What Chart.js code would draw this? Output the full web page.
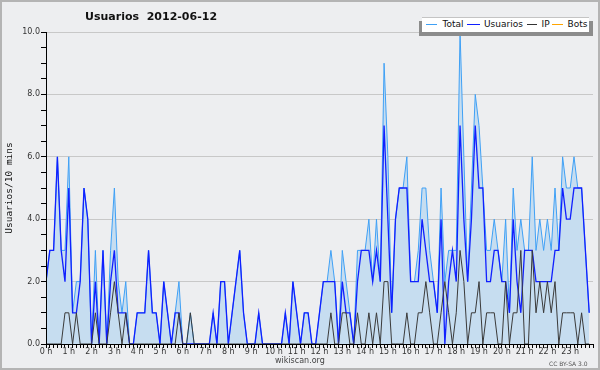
<!DOCTYPE html>
<html>
<head>
<meta charset="utf-8">
<script src="https://cdn.jsdelivr.net/npm/chart.js@4/dist/chart.umd.min.js"></script>
<style>
  html, body { margin: 0; padding: 0; background: #edeef0; }
  #wrap { position: relative; width: 600px; height: 370px; background: #edeef0; overflow: hidden; }
  #c { position: absolute; left: 0; top: 0; }
  .abs { position: absolute; white-space: pre; font-family: 'DejaVu Sans', sans-serif; }
  .frame { position: absolute; left: 0; top: 0; width: 600px; height: 370px; box-sizing: border-box; border: 2px solid #b4b4b4; pointer-events: none; }
</style>
</head>
<body>
<div id="wrap">
  <canvas id="c" width="600" height="370"></canvas>
  <div class="abs" style="left:85px;top:10px;font-weight:bold;font-size:11px;line-height:13px;color:#111;">Usuarios  2012-06-12</div>
  <div style="position:absolute;left:419px;top:21px;width:174px;height:15px;background:#8c8c8c;"></div>
  <div style="position:absolute;left:422px;top:17px;width:167px;height:15px;background:#fff;box-sizing:border-box;border-top:1px solid #c4c4c4;"></div>
  <div style="position:absolute;left:426px;top:24px;width:11px;height:1px;background:#3fa0f5;"></div>
  <div class="abs" style="left:442.5px;top:19px;font-size:9px;line-height:11px;color:#111;">Total</div>
  <div style="position:absolute;left:467px;top:24px;width:13px;height:1px;background:#1020ff;"></div>
  <div class="abs" style="left:484px;top:19px;font-size:9px;line-height:11px;color:#111;">Usuarios</div>
  <div style="position:absolute;left:527px;top:24px;width:10px;height:1px;background:#333;"></div>
  <div class="abs" style="left:541.5px;top:19px;font-size:9px;line-height:11px;color:#111;">IP</div>
  <div style="position:absolute;left:552px;top:24px;width:11px;height:1px;background:#ffa500;"></div>
  <div class="abs" style="left:567.5px;top:19px;font-size:9px;line-height:11px;color:#111;">Bots</div>
  <div class="abs" style="left:275px;top:356px;font-size:8px;line-height:10px;color:#444;">wikiscan.org</div>
  <div class="abs" style="left:549px;top:359.5px;font-size:6px;line-height:7px;color:#555;">CC BY-SA 3.0</div>
  <div class="frame"></div>
</div>
<script>
// 144 ten-minute slots, 0 h .. 23 h 50
const total = [
  2,3,3,6,3,3,6,1,2,2,5,4,
  0,3,0,3,0,3,5,2,1,2,0,0,
  1,1,1,3,1,1,0,2,1,0,1,2,
  0,0,1,0,0,0,0,0,1,0,2,2,
  0,1,2,3,1,0,0,0,1,0,0,0,
  0,0,0,1,0,2,1,0,1,1,0,0,
  1,2,2,3,2,0,3,2,1,0,3,3,
  3,4,2,4,2,9,6,1,4,5,5,6,
  2,2,3,5,5,3,2,1,5,2,3,3,
  3,10,6,2,5,8,7,5,3,3,4,3,
  2,4,1,5,3,4,3,3,6,3,4,3,
  4,3,5,3,6,5,5,6,5,5,3,1
];
const usuarios = [
  2,3,3,6,3,2,5,1,1,2,5,4,
  0,2,0,3,0,2,3,1,1,1,0,0,
  1,1,1,3,1,1,0,2,1,0,1,1,
  0,0,0,0,0,0,0,0,1,0,2,2,
  0,1,2,3,1,0,0,0,1,0,0,0,
  0,0,0,1,0,2,1,0,1,1,0,0,
  1,2,2,2,2,0,2,1,1,0,2,3,
  3,3,2,3,2,7,4,1,4,5,5,5,
  2,2,2,4,3,2,2,1,4,0,2,3,
  2,7,4,2,4,7,5,5,2,2,3,3,
  2,2,1,4,2,1,3,3,3,2,2,2,
  2,2,3,3,5,4,4,5,5,5,3,1
];
const ip = [
  0,0,0,0,0,1,1,0,1,0,0,0,
  0,1,0,0,0,1,2,1,0,1,0,0,
  0,0,0,0,0,0,0,0,0,0,0,1,
  0,0,1,0,0,0,0,0,0,0,0,0,
  0,0,0,0,0,0,0,0,0,0,0,0,
  0,0,0,0,0,0,0,0,0,0,0,0,
  0,0,0,1,0,0,1,1,0,0,1,0,
  0,1,0,1,0,2,2,0,0,0,0,1,
  0,0,1,1,2,1,0,0,1,2,1,0,
  1,3,2,0,1,1,2,0,1,1,1,0,
  0,2,0,1,1,3,0,0,3,1,2,1,
  2,1,2,0,1,1,1,1,0,1,0,0
];
const bots = []; // no bot activity recorded this day
const hourLabels = ['0 h','1 h','2 h','3 h','4 h','5 h','6 h','7 h','8 h','9 h','10 h','11 h',
  '12 h','13 h','14 h','15 h','16 h','17 h','18 h','19 h','20 h','21 h','22 h','23 h'];
const yLabels = ['0.0','2.0','4.0','6.0','8.0','10.0'];

const toXY = arr => arr.map((v, i) => ({ x: i, y: v }));

new Chart(document.getElementById('c'), {
  type: 'line',
  data: {
    datasets: [
      { label: 'Total', data: toXY(total), borderColor: '#3fa0f5', backgroundColor: '#c6ddf0',
        fill: 'origin', borderWidth: 1, pointRadius: 0, tension: 0, order: 4 },
      { label: 'Usuarios', data: toXY(usuarios), borderColor: '#1020ff', borderWidth: 1.3,
        pointRadius: 0, tension: 0, fill: false, order: 3 },
      { label: 'IP', data: toXY(ip), borderColor: '#3a3a3a', borderWidth: 1,
        pointRadius: 0, tension: 0, fill: false, order: 2 },
      { label: 'Bots', data: toXY(bots), borderColor: '#ffa500', borderWidth: 1,
        pointRadius: 0, tension: 0, fill: false, order: 1 }
    ]
  },
  options: {
    responsive: false, animation: false, devicePixelRatio: 1,
    layout: { padding: { left: 0, right: 7, top: 32, bottom: 0 } },
    plugins: { legend: { display: false }, tooltip: { enabled: false }, title: { display: false } },
    scales: {
      x: {
        type: 'linear', min: 0, max: 144,
        afterFit(s) { s.height = 26; },
        ticks: {
          stepSize: 1, maxTicksLimit: 200, autoSkip: false, maxRotation: 0, minRotation: 0, padding: -1,
          font: { family: 'DejaVu Sans', size: 8 }, color: '#333',
          callback: v => (v % 6 === 0 && v / 6 < hourLabels.length) ? hourLabels[v / 6] : ''
        },
        grid: { drawOnChartArea: false, tickLength: 4, tickColor: '#000' },
        border: { color: '#000', width: 1, z: 1 }
      },
      y: {
        min: 0, max: 10,
        afterFit(s) { s.width = 46; },
        ticks: {
          stepSize: 0.5, maxTicksLimit: 50, autoSkip: false, padding: 1,
          font: { family: 'DejaVu Sans', size: 8 }, color: '#333',
          callback: v => (v % 2 === 0) ? yLabels[v / 2] : ''
        },
        grid: {
          tickLength: 5, tickColor: '#000',
          color: c => (c.tick && c.tick.value % 2 === 0) ? '#c8c8c8' : 'rgba(0,0,0,0)'
        },
        border: { color: '#000', width: 1, z: 1 },
        title: { display: true, text: 'Usuarios/10 mins', color: '#111',
          font: { family: 'DejaVu Sans Mono', size: 9.5 }, padding: { top: 4, bottom: 0 } }
      }
    }
  }
});
</script>
</body>
</html>
